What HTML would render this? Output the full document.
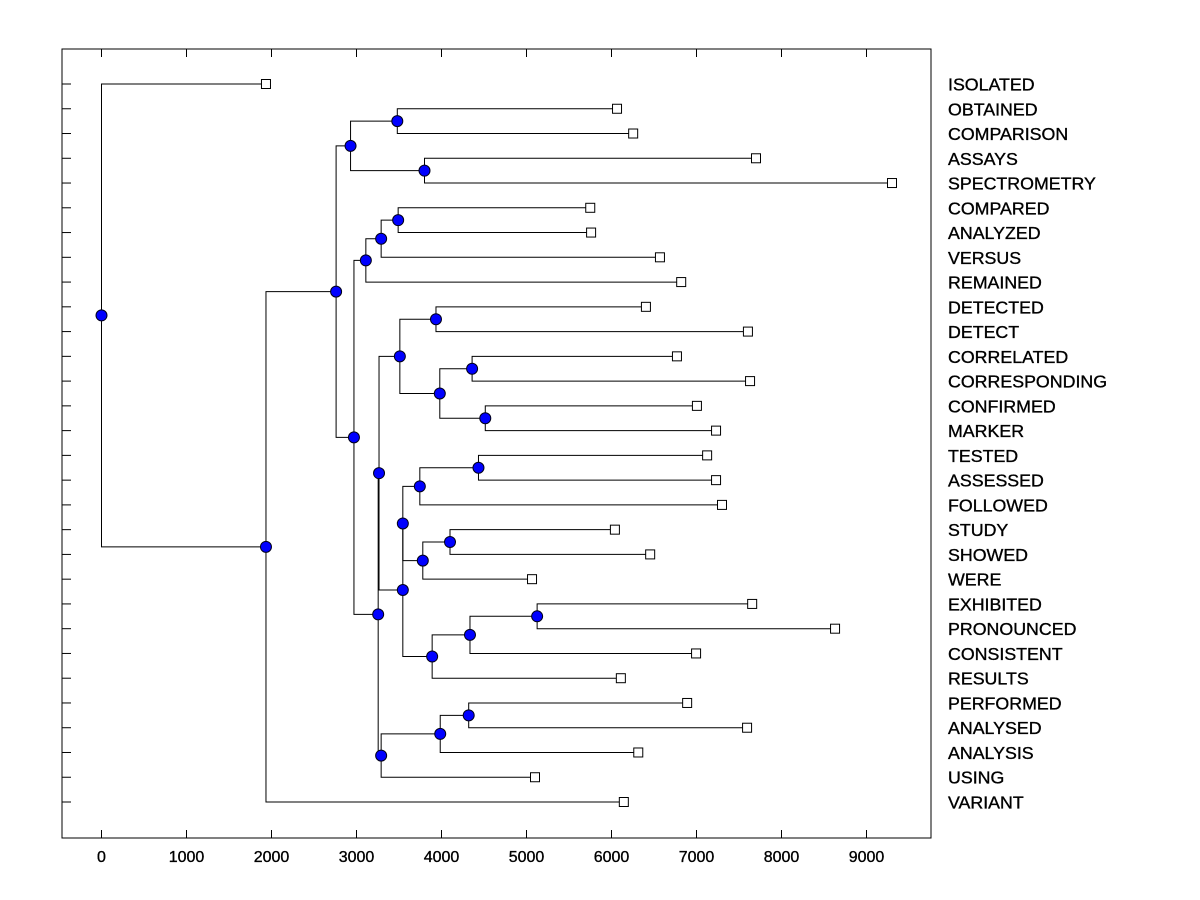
<!DOCTYPE html>
<html><head><meta charset="utf-8"><style>
body{margin:0;background:#fff;}
svg{display:block;font-family:"Liberation Sans",Arial,sans-serif;}
text{stroke:#000;stroke-width:0.35;}
</style></head><body>
<svg id="chart" width="1200" height="900"></svg>
<script>
const labels=["ISOLATED","OBTAINED","COMPARISON","ASSAYS","SPECTROMETRY","COMPARED","ANALYZED","VERSUS","REMAINED","DETECTED","DETECT","CORRELATED","CORRESPONDING","CONFIRMED","MARKER","TESTED","ASSESSED","FOLLOWED","STUDY","SHOWED","WERE","EXHIBITED","PRONOUNCED","CONSISTENT","RESULTS","PERFORMED","ANALYSED","ANALYSIS","USING","VARIANT"];
const leafValues=[1935,6065,6255,7700,9300,5750,5760,6570,6820,6405,7605,6770,7630,7005,7230,7125,7230,7300,6040,6455,5065,7655,8630,6995,6110,6890,7595,6315,5100,6145];
const mergeLeft=[1,3,30,5,33,34,9,11,13,37,36,15,41,18,43,42,21,46,47,45,40,25,51,52,50,35,32,56,0];
const mergeRight=[2,4,31,6,7,8,10,12,14,38,39,16,17,19,20,44,22,23,24,48,49,26,27,28,53,54,55,29,57];
const mergeValues=[3480,3800,2930,3490,3290,3110,3935,4360,4515,3980,3510,4435,3745,4100,3780,3545,5125,4335,3890,3545,3265,4320,3985,3290,3255,2970,2760,1935,0];
const xTicks=[0,1000,2000,3000,4000,5000,6000,7000,8000,9000];

const NS="http://www.w3.org/2000/svg";
const svg=document.getElementById('chart');
const L=62,R=931,T=49,B=838;
const xs=v=>101.5+v*0.085;
const ys=i=>84+i*(802-84)/(labels.length-1);
function mk(tag,attrs,parent){const e=document.createElementNS(NS,tag);for(const k in attrs)e.setAttribute(k,attrs[k]);(parent||svg).appendChild(e);return e;}

const frame=mk('rect',{x:L,y:T,width:R-L,height:B-T,fill:'none',stroke:'#000','stroke-width':1});



xTicks.forEach(v=>{
  const x=xs(v);
  const t1=mk('line',{x1:x,x2:x,y1:B,y2:B-8,stroke:'#000'});
  
  
  const t2=mk('line',{x1:x,x2:x,y1:T,y2:T+8,stroke:'#000'});
  
  
  const tx=mk('text',{x:x,y:862,'text-anchor':'middle','font-size':16});
  tx.textContent=v;
  
  
});
labels.forEach((lab,i)=>{
  const y=ys(i);
  const t=mk('line',{x1:L,x2:L+9,y1:y,y2:y,stroke:'#000'});
  
  
  const tx=mk('text',{x:948,y:y+6.5,'font-size':17.8});
  tx.textContent=lab;
  
  
});

const nodeX=[],nodeY=[];
leafValues.forEach((v,i)=>{nodeX[i]=xs(v);nodeY[i]=ys(i);});
const N=labels.length;
mergeValues.forEach((v,k)=>{
  const id=N+k,a=mergeLeft[k],b=mergeRight[k];
  nodeX[id]=xs(v);nodeY[id]=(nodeY[a]+nodeY[b])/2;
});
const lines=mk('g',{stroke:'#000','stroke-width':1,fill:'none'});


mergeValues.forEach((v,k)=>{
  const id=N+k,px=nodeX[id];
  [mergeLeft[k],mergeRight[k]].forEach(c=>{
    const p=mk('path',{d:`M${px},${nodeY[id]}V${nodeY[c]}H${nodeX[c]}`},lines);
    
    
  });
});
leafValues.forEach((v,i)=>{
  const r=mk('rect',{x:nodeX[i]-4.5,y:nodeY[i]-4.5,width:9,height:9,fill:'#fff',stroke:'#000'});
  
  
});
mergeValues.forEach((v,k)=>{
  const id=N+k;
  const c=mk('circle',{cx:nodeX[id],cy:nodeY[id],r:5.5,fill:'#0000ff',stroke:'#000018','stroke-width':1});
  
  
});
</script>
</body></html>
